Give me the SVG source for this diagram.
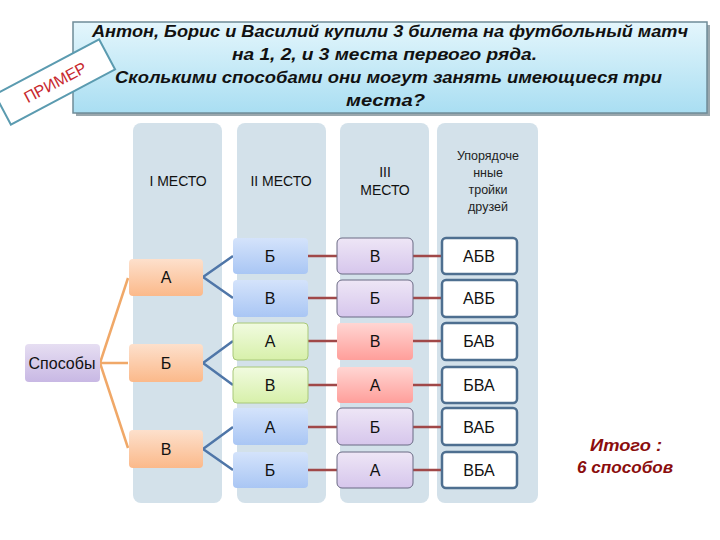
<svg xmlns="http://www.w3.org/2000/svg" width="720" height="540" viewBox="0 0 720 540">
<defs>
<linearGradient id="gTitle" x1="0" y1="0" x2="0" y2="1"><stop offset="0" stop-color="#e4f6fc"/><stop offset="1" stop-color="#a9def2"/></linearGradient>
<linearGradient id="gOr" x1="0" y1="0" x2="0" y2="1"><stop offset="0" stop-color="#fde0cc"/><stop offset="1" stop-color="#fbb98a"/></linearGradient>
<linearGradient id="gPu" x1="0" y1="0" x2="0" y2="1"><stop offset="0" stop-color="#e6def2"/><stop offset="1" stop-color="#c8b8e4"/></linearGradient>
<linearGradient id="gBl" x1="0" y1="0" x2="0" y2="1"><stop offset="0" stop-color="#d4e3fb"/><stop offset="1" stop-color="#a9c6f4"/></linearGradient>
<linearGradient id="gGr" x1="0" y1="0" x2="0" y2="1"><stop offset="0" stop-color="#f1fbe0"/><stop offset="1" stop-color="#d7f0aa"/></linearGradient>
<linearGradient id="gVi" x1="0" y1="0" x2="0" y2="1"><stop offset="0" stop-color="#eee6f6"/><stop offset="1" stop-color="#d6c6ec"/></linearGradient>
<linearGradient id="gRe" x1="0" y1="0" x2="0" y2="1"><stop offset="0" stop-color="#ffd6d3"/><stop offset="1" stop-color="#ff9e9a"/></linearGradient>
</defs>
<style>
.col{fill:#d3e1ea}
.hd{font-family:"Liberation Sans",Arial,sans-serif;font-size:14px;fill:#111;text-anchor:middle}
.hs{font-family:"Liberation Sans",Arial,sans-serif;font-size:12.5px;fill:#222;text-anchor:middle}
.t{font-family:"Liberation Sans",Arial,sans-serif;font-size:16px;fill:#111;text-anchor:middle}
.ti{font-family:"Liberation Sans",Arial,sans-serif;font-size:16px;font-weight:bold;font-style:italic;fill:#111}
.or{fill:url(#gOr)}
.bl{fill:url(#gBl)}
.gr{fill:url(#gGr);stroke:#a8c878;stroke-width:1}
.vi{fill:url(#gVi);stroke:#6a6a84;stroke-width:1}
.re{fill:url(#gRe)}
.wh{fill:#fff;stroke:#4e6f90;stroke-width:2.5}
.lo{stroke:#f0a868;stroke-width:2.5;fill:none}
.lb{stroke:#4f76a8;stroke-width:2.5;fill:none}
.lr{stroke:#a04848;stroke-width:2.5;fill:none}
.tot{font-family:"Liberation Sans",Arial,sans-serif;font-size:16px;font-weight:bold;font-style:italic;fill:#8b0d0d}
</style>
<rect width="720" height="540" fill="#fff"/>
<g id="title">
<rect x="76" y="25" width="634" height="91" fill="#9aa7ad"/>
<rect x="73" y="22" width="634" height="91" fill="url(#gTitle)" stroke="#6f8c98" stroke-width="1.5"/>
<text class="ti" x="92" y="37" textLength="596" lengthAdjust="spacingAndGlyphs">Антон, Борис и Василий  купили  3 билета  на футбольный  матч</text>
<text class="ti" x="232" y="60" textLength="305" lengthAdjust="spacingAndGlyphs">на 1, 2, и 3   места первого ряда.</text>
<text class="ti" x="115" y="83" textLength="547" lengthAdjust="spacingAndGlyphs">Сколькими способами они  могут  занять имеющиеся  три</text>
<text class="ti" x="346" y="106" textLength="79" lengthAdjust="spacingAndGlyphs">места?</text>
</g>
<g id="stamp" transform="translate(55,82) rotate(-28)">
<rect x="-59" y="-17" width="118" height="34" fill="#fff" stroke="#5b9bb0" stroke-width="2"/>
<text x="0" y="6" font-family="Liberation Sans,Arial,sans-serif" font-size="16" fill="#c8282e" text-anchor="middle">ПРИМЕР</text>
</g>
<g id="columns">
<rect class="col" x="133" y="123" width="89" height="380" rx="8"/>
<rect class="col" x="237" y="123" width="89" height="380" rx="8"/>
<rect class="col" x="340" y="123" width="89" height="380" rx="8"/>
<rect class="col" x="437" y="123" width="101" height="380" rx="8"/>
<text class="hd" x="178" y="186">I МЕСТО</text>
<text class="hd" x="281" y="186">II МЕСТО</text>
<text class="hd" x="385" y="177">III</text>
<text class="hd" x="385" y="195">МЕСТО</text>
<text class="hs" x="488" y="160">Упорядоче</text>
<text class="hs" x="488" y="177">нные</text>
<text class="hs" x="488" y="194">тройки</text>
<text class="hs" x="488" y="211">друзей</text>
</g>
<g id="connectors">
<path class="lo" d="M100,363 L128,278 M100,363 L128,363 M100,363 L128,448"/>
<path class="lb" d="M203,277 L233,256 M203,277 L233,298 M203,363 L233,341 M203,363 L233,385 M203,449 L233,427 M203,449 L233,470"/>
<path class="lr" d="M308,256 H337 M308,298 H337 M308,341 H337 M308,385 H337 M308,427 H337 M308,470 H337"/>
<path class="lr" d="M413,256 H442 M413,298 H442 M413,341 H442 M413,385 H442 M413,427 H442 M413,470 H442"/>
</g>
<g id="sposoby"><rect x="25" y="344" width="75" height="38" rx="4" fill="url(#gPu)"/><text class="t" x="62" y="369">Способы</text></g>
<g id="c1a"><rect class="or" x="129" y="259" width="74" height="37" rx="4"/><text class="t" x="166" y="283">А</text></g>
<g id="c1b"><rect class="or" x="129" y="344" width="74" height="38" rx="4"/><text class="t" x="166" y="369">Б</text></g>
<g id="c1c"><rect class="or" x="129" y="430" width="74" height="38" rx="4"/><text class="t" x="166" y="455">В</text></g>
<g id="c2r1"><rect class="bl" x="233" y="238" width="75" height="36" rx="4"/><text class="t" x="270" y="262">Б</text></g>
<g id="c2r2"><rect class="bl" x="233" y="280" width="75" height="37" rx="4"/><text class="t" x="270" y="304">В</text></g>
<g id="c2r3"><rect class="gr" x="233" y="323" width="75" height="37" rx="4"/><text class="t" x="270" y="347">А</text></g>
<g id="c2r4"><rect class="gr" x="233" y="367" width="75" height="36" rx="4"/><text class="t" x="270" y="391">В</text></g>
<g id="c2r5"><rect class="bl" x="233" y="408" width="75" height="37" rx="4"/><text class="t" x="270" y="433">А</text></g>
<g id="c2r6"><rect class="bl" x="233" y="452" width="75" height="36" rx="4"/><text class="t" x="270" y="476">Б</text></g>
<g id="c3r1"><rect class="vi" x="337" y="238" width="76" height="36" rx="5"/><text class="t" x="375" y="262">В</text></g>
<g id="c3r2"><rect class="vi" x="337" y="280" width="76" height="37" rx="5"/><text class="t" x="375" y="304">Б</text></g>
<g id="c3r3"><rect class="re" x="337" y="323" width="76" height="37" rx="4"/><text class="t" x="375" y="347">В</text></g>
<g id="c3r4"><rect class="re" x="337" y="367" width="76" height="36" rx="4"/><text class="t" x="375" y="391">А</text></g>
<g id="c3r5"><rect class="vi" x="337" y="408" width="76" height="37" rx="5"/><text class="t" x="375" y="433">Б</text></g>
<g id="c3r6"><rect class="vi" x="337" y="452" width="76" height="36" rx="5"/><text class="t" x="375" y="476">А</text></g>
<g id="c4r1"><rect class="wh" x="442" y="238" width="75" height="36" rx="4"/><text class="t" x="479" y="262">АБВ</text></g>
<g id="c4r2"><rect class="wh" x="442" y="280" width="75" height="37" rx="4"/><text class="t" x="479" y="304">АВБ</text></g>
<g id="c4r3"><rect class="wh" x="442" y="323" width="75" height="37" rx="4"/><text class="t" x="479" y="347">БАВ</text></g>
<g id="c4r4"><rect class="wh" x="442" y="367" width="75" height="36" rx="4"/><text class="t" x="479" y="391">БВА</text></g>
<g id="c4r5"><rect class="wh" x="442" y="408" width="75" height="37" rx="4"/><text class="t" x="479" y="433">ВАБ</text></g>
<g id="c4r6"><rect class="wh" x="442" y="452" width="75" height="36" rx="4"/><text class="t" x="479" y="476">ВБА</text></g>
<g id="total">
<text class="tot" x="590" y="451" textLength="72" lengthAdjust="spacingAndGlyphs">Итого :</text>
<text class="tot" x="577" y="473" textLength="96" lengthAdjust="spacingAndGlyphs">6 способов</text>
</g>
</svg>
